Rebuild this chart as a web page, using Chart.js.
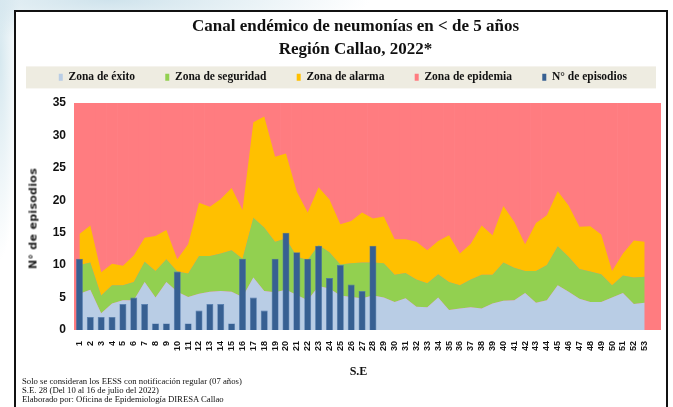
<!DOCTYPE html>
<html>
<head>
<meta charset="utf-8">
<script src="https://cdn.jsdelivr.net/npm/chart.js@4/dist/chart.umd.min.js"></script>
<style>
  html, body { margin: 0; padding: 0; background: #fff; }
  #wrap { position: relative; width: 673px; height: 407px; overflow: hidden;
          background: radial-gradient(ellipse 260px 40px at 110px 0px, #cfe3ec 0%, rgba(255,255,255,0) 100%),
                      radial-gradient(ellipse 20px 200px at 0px 60px, #d6e8ef 0%, rgba(255,255,255,0) 100%), #fff; }
  #frame { position: absolute; left: 14px; top: 10px; width: 650px; height: 420px; border: 2px solid #111; background: #fff; }
  #chart { position: absolute; left: 0; top: 0; }
  #ytitle { position: absolute; left: -27px; top: 212px; width: 120px; text-align: center; letter-spacing: 0.3px;
            transform: rotate(-90deg); font: bold 11px "DejaVu Sans", sans-serif; color: #222; }
  .note { position: absolute; left: 22px; font: 8.7px "Liberation Serif", serif; color: #111; white-space: nowrap; }
</style>
</head>
<body>
<div id="wrap">
  <div id="frame"></div>
  <canvas id="chart" width="673" height="407"></canvas>
  <div id="ytitle">N° de episodios</div>
  <div class="note" style="top:376px">Solo se consideran los EESS con notificación regular (07 años)</div>
  <div class="note" style="top:385px">S.E. 28 (Del 10 al 16 de julio del 2022)</div>
  <div class="note" style="top:394px">Elaborado por: Oficina de Epidemiología DIRESA Callao</div>
</div>
<script>
// semanas epidemiologicas (la ultima banda queda vacia)
const weeks = ['1','2','3','4','5','6','7','8','9','10','11','12','13','14','15','16','17','18','19','20',
  '21','22','23','24','25','26','27','28','29','30','31','32','33','34','35','36','37','38','39','40',
  '41','42','43','44','45','46','47','48','49','50','51','52','53',''];

// limites superiores de cada zona
const exito = [5.6, 6.2, 2.6, 4.1, 4.6, 4.6, 7.4, 5.0, 7.4, 5.9,
  5.1, 5.6, 5.9, 6.0, 5.9, 5.1, 8.1, 6.0, 5.8, 6.2,
  5.4, 4.6, 6.8, 6.4, 5.3, 5.1, 4.9, 5.3, 5.0, 4.3,
  4.9, 3.6, 3.5, 5.0, 3.1, 3.3, 3.5, 3.3, 4.1, 4.5,
  4.6, 5.7, 4.2, 4.6, 6.9, 5.9, 4.8, 4.3, 4.3, 5.0,
  5.7, 4.0, 4.2];
const seguridad = [10.0, 10.4, 5.3, 6.9, 6.9, 7.4, 10.5, 9.1, 10.9, 9.0,
  8.7, 11.4, 11.4, 11.8, 12.3, 11.0, 17.3, 15.8, 13.6, 14.1,
  11.3, 10.8, 13.1, 12.0, 10.1, 10.3, 10.4, 10.4, 10.3, 8.5,
  8.8, 7.8, 7.2, 8.6, 7.4, 6.9, 7.8, 8.5, 8.5, 10.4,
  9.6, 9.1, 9.1, 10.0, 12.9, 11.3, 9.4, 9.0, 8.6, 6.9,
  8.4, 8.1, 8.2];
const alarma = [14.8, 16.1, 8.9, 10.2, 9.9, 11.5, 14.2, 14.5, 15.4, 10.9,
  13.2, 19.6, 19.0, 20.2, 21.9, 18.5, 32.0, 32.9, 26.7, 27.2,
  21.3, 18.1, 22.0, 20.1, 16.3, 16.8, 18.1, 17.2, 17.5, 14.0,
  14.0, 13.6, 12.3, 13.7, 14.6, 11.8, 13.3, 16.1, 14.6, 19.1,
  16.7, 13.2, 16.5, 17.7, 21.4, 19.2, 15.9, 16.0, 14.7, 9.1,
  11.8, 13.8, 13.6];
const epidemia = weeks.map(() => 35);

// N° de episodios notificados hasta la S.E. 28
const episodios = [11, 2, 2, 2, 4, 5, 4, 1, 1, 9, 1, 3, 4, 4, 1, 11, 5, 3, 11, 15,
  12, 11, 13, 8, 10, 7, 6, 13];

const serif = '"Liberation Serif", "Times New Roman", serif';

// franja beige detras de la leyenda
const legendBand = {
  id: 'legendBand',
  beforeDraw(chart) {
    const l = chart.legend, ctx = chart.ctx;
    ctx.save();
    ctx.fillStyle = '#EEECE1';
    ctx.fillRect(26, l.top, 630, 22);
    ctx.restore();
  }
};

function area(label, data, color, fill) {
  return { type: 'line', label: label, data: data, backgroundColor: color, borderColor: color,
    borderWidth: 0, pointRadius: 0, tension: 0, fill: fill, order: 1 };
}

new Chart(document.getElementById('chart'), {
  data: {
    labels: weeks,
    datasets: [
      area('Zona de éxito', exito, '#B9CDE5', 'origin'),
      area('Zona de seguridad', seguridad, '#92D050', '-1'),
      area('Zona de alarma', alarma, '#FFC000', '-1'),
      { type: 'bar', label: 'Zona de epidemia', data: epidemia, backgroundColor: '#FF7C80',
        barPercentage: 1.06, categoryPercentage: 1, grouped: false, order: 2 },
      { type: 'bar', label: 'N° de episodios', data: episodios, backgroundColor: '#376092',
        borderColor: '#4F7AAE', borderWidth: 0.6,
        barPercentage: 0.64, categoryPercentage: 1, grouped: false, order: 0 }
    ]
  },
  options: {
    responsive: false,
    animation: false,
    layout: { padding: { left: 50, right: 12, top: 0, bottom: 24 } },
    plugins: {
      tooltip: { enabled: false },
      title: {
        display: true,
        text: ['Canal endémico de neumonías en < de 5 años', 'Región Callao, 2022*'],
        color: '#111',
        font: { family: serif, size: 17, weight: 'bold', lineHeight: 1.35 },
        padding: { top: 15.5, bottom: 5 }
      },
      // espacio entre la leyenda y el area de trazado
      subtitle: { display: true, text: '', weight: 500, font: { size: 1, lineHeight: 1 },
        padding: { top: 9, bottom: 0 } },
      legend: {
        labels: {
          sort: (a, b) => a.datasetIndex - b.datasetIndex,
          generateLabels: chart => Chart.defaults.plugins.legend.labels.generateLabels(chart)
            .map(it => Object.assign(it, { text: it.text + '\u2003\u2003\u2009', lineWidth: 0 })),
          boxWidth: 4, boxHeight: 7, padding: 5, color: '#111',
          font: { family: serif, size: 11.5, weight: 'bold' }
        }
      }
    },
    scales: {
      x: {
        grid: { display: false }, border: { display: false },
        ticks: { autoSkip: false, minRotation: 90, maxRotation: 90, padding: 3, color: '#111',
          font: { family: 'Arial, "Liberation Sans", sans-serif', size: 9, weight: 'bold' } },
        title: { display: true, text: 'S.E\u2002\u2002\u2002', color: '#111', padding: { top: 0, bottom: 4 },
          font: { family: serif, size: 12, weight: 'bold' } },
        afterFit: s => { s.height = 53; }
      },
      y: {
        min: 0, max: 35,
        grid: { display: false }, border: { display: false },
        ticks: { stepSize: 5, padding: 0, color: '#111',
          font: { family: 'Arial, "Liberation Sans", sans-serif', size: 12, weight: 'bold' } },
        afterFit: s => { s.width = 24; }
      }
    }
  },
  plugins: [legendBand]
});
</script>
</body>
</html>
